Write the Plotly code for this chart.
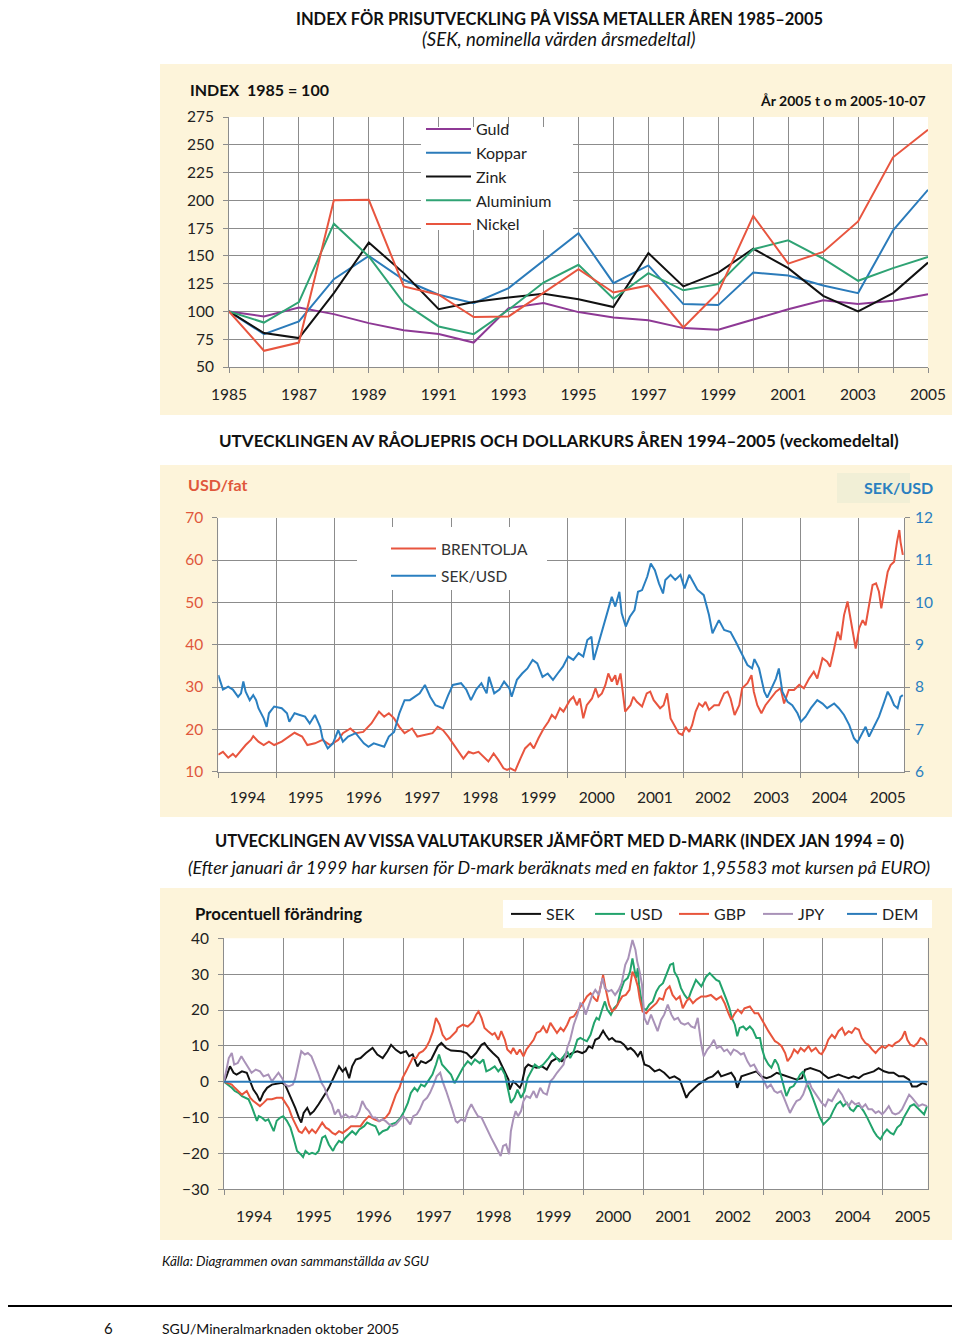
import plotly.graph_objects as go

# The page body adds an 8 px margin, so the figure is laid out 8 px up/left of the reference pixels.
OFF = 8
W, H = 952, 1330
def px(x): return (x - OFF) / W
def py(y): return 1 - (y - OFF) / H

FONT = "Lato, 'Noto Sans', sans-serif"
CREAM = "#fdf4da"
GRID = "#8c8c8c"
TXT = "#222222"

# ---------------- Panel 1: metals index (annual) ----------------
years = list(range(1985, 2006))
guld = [100, 95.5, 103.6, 97.6, 89.5, 83, 79.6, 72, 103, 107.5, 99.4, 94.6, 92, 85, 83.5, 92.5, 102, 110, 106.6, 109.6, 115.6]
koppar = [100, 79.6, 91, 129, 150, 128.5, 115, 107.5, 121, 145.6, 170.5, 125.5, 141.4, 106.6, 105.7, 135, 132.4, 123.4, 116.5, 173, 209.5]
zink = [100, 80.5, 76, 116.5, 162, 134.5, 102, 108.4, 112.6, 116, 111, 104, 152.5, 122.5, 135, 156.4, 139, 114, 100, 116.5, 144]
aluminium = [100, 90, 108.4, 179, 149.5, 107.5, 86.5, 79.6, 101.5, 126, 142, 111.4, 134.5, 119, 124.6, 156, 164, 147.5, 127.6, 139, 149]
nickel = [100, 64.6, 72, 200, 200.5, 122.5, 115, 95, 95.5, 116.5, 138, 117, 123.4, 85.6, 117.4, 186, 143, 153.6, 181, 238.7, 263.6]
metal_names = ["Guld", "Koppar", "Zink", "Aluminium", "Nickel"]
metal_colors = ["#8e3995", "#2b7bba", "#111111", "#2fa374", "#e8553f"]

# ---------------- Panel 2: Brent (USD/fat) and SEK/USD, weekly (read at ~monthly detail) ----------------
brent = [
    (1994.0, 14.0), (1994.08, 14.7), (1994.17, 13.3), (1994.25, 14.2), (1994.3, 13.5), (1994.39, 15.1), (1994.47, 16.3),
    (1994.56, 17.5), (1994.6, 18.4), (1994.69, 17.1), (1994.78, 16.3), (1994.87, 17.1), (1994.96, 16.3), (1995.09, 17.1),
    (1995.22, 18.3), (1995.31, 19.2), (1995.44, 18.3), (1995.53, 16.3), (1995.66, 16.7), (1995.79, 17.5), (1995.92, 16.3),
    (1996.06, 17.5), (1996.14, 19.1), (1996.27, 20.2), (1996.36, 19.1), (1996.49, 19.4), (1996.63, 21.4), (1996.76, 24.2),
    (1996.85, 23.0), (1996.93, 23.8), (1997.02, 22.6), (1997.11, 20.6), (1997.2, 19.1), (1997.33, 20.2), (1997.42, 18.3),
    (1997.55, 18.7), (1997.68, 19.1), (1997.77, 20.6), (1997.86, 19.8), (1997.95, 18.3), (1998.03, 16.7), (1998.12, 15.1),
    (1998.21, 13.1), (1998.3, 14.7), (1998.38, 14.3), (1998.47, 14.7), (1998.56, 13.5), (1998.64, 12.4), (1998.73, 14.3),
    (1998.81, 12.8), (1998.9, 10.8), (1998.96, 10.4), (1999.02, 10.8), (1999.1, 10.2), (1999.19, 13.1), (1999.27, 15.5),
    (1999.36, 16.7), (1999.42, 15.5), (1999.5, 17.9), (1999.59, 20.2), (1999.67, 21.8), (1999.73, 23.4), (1999.79, 22.6),
    (1999.87, 25.0), (1999.93, 24.2), (1999.99, 25.7), (2000.04, 26.9), (2000.1, 27.7), (2000.16, 25.7), (2000.21, 27.3),
    (2000.27, 22.6), (2000.33, 25.7), (2000.42, 27.3), (2000.48, 29.7), (2000.53, 27.7), (2000.59, 28.5), (2000.65, 30.5),
    (2000.7, 33.2), (2000.76, 31.3), (2000.82, 32.8), (2000.85, 30.5), (2000.91, 33.2), (2000.95, 29.3), (2000.99, 24.2),
    (2001.08, 25.7), (2001.13, 27.7), (2001.19, 26.5), (2001.28, 25.4), (2001.36, 28.5), (2001.42, 28.9), (2001.48, 26.9),
    (2001.54, 25.7), (2001.59, 25.0), (2001.65, 25.7), (2001.71, 28.5), (2001.77, 22.6), (2001.85, 20.6), (2001.91, 19.1),
    (2001.97, 18.7), (2002.03, 20.6), (2002.09, 19.4), (2002.14, 21.0), (2002.2, 24.2), (2002.26, 26.1), (2002.32, 25.4),
    (2002.37, 26.5), (2002.43, 24.6), (2002.52, 25.7), (2002.6, 25.7), (2002.69, 28.5), (2002.75, 28.9), (2002.8, 27.3),
    (2002.87, 23.4), (2002.95, 25.7), (2003.0, 29.7), (2003.09, 30.9), (2003.16, 32.8), (2003.2, 28.9), (2003.26, 25.7),
    (2003.33, 23.8), (2003.4, 25.7), (2003.49, 27.3), (2003.58, 28.9), (2003.66, 29.7), (2003.72, 26.1), (2003.8, 29.3),
    (2003.89, 29.3), (2003.98, 30.5), (2004.06, 29.7), (2004.15, 32.0), (2004.23, 33.6), (2004.29, 32.0), (2004.38, 36.8),
    (2004.46, 36.0), (2004.51, 34.8), (2004.58, 39.1), (2004.64, 43.1), (2004.69, 41.1), (2004.75, 47.0), (2004.81, 50.2),
    (2004.86, 46.2), (2004.91, 43.1), (2004.95, 39.1), (2005.01, 43.9), (2005.07, 45.8), (2005.12, 44.6), (2005.18, 49.4),
    (2005.24, 54.1), (2005.3, 54.5), (2005.35, 52.5), (2005.39, 48.6), (2005.44, 52.1), (2005.5, 57.2), (2005.55, 58.8),
    (2005.61, 59.6), (2005.66, 64.3), (2005.7, 67.1), (2005.72, 64.3), (2005.76, 61.2),
]
sekusd = [
    (1994.0, 8.28), (1994.04, 8.13), (1994.08, 7.94), (1994.17, 8.01), (1994.25, 7.94), (1994.34, 7.77), (1994.39, 7.85),
    (1994.43, 8.13), (1994.47, 7.89), (1994.54, 7.69), (1994.6, 7.81), (1994.65, 7.69), (1994.69, 7.50), (1994.78, 7.26),
    (1994.83, 7.06), (1994.87, 7.38), (1994.96, 7.54), (1995.09, 7.50), (1995.18, 7.38), (1995.22, 7.18), (1995.31, 7.38),
    (1995.4, 7.34), (1995.49, 7.30), (1995.57, 7.14), (1995.66, 7.34), (1995.75, 7.06), (1995.79, 6.79), (1995.88, 6.55),
    (1995.97, 6.67), (1996.06, 6.98), (1996.14, 6.71), (1996.23, 6.83), (1996.36, 6.91), (1996.5, 6.67), (1996.58, 6.59),
    (1996.67, 6.67), (1996.85, 6.59), (1996.93, 6.83), (1997.02, 6.94), (1997.11, 7.38), (1997.2, 7.69), (1997.29, 7.69),
    (1997.38, 7.77), (1997.46, 7.85), (1997.55, 8.05), (1997.64, 7.77), (1997.73, 7.57), (1997.86, 7.50), (1997.95, 7.81),
    (1998.03, 8.05), (1998.17, 8.09), (1998.26, 7.94), (1998.34, 7.69), (1998.43, 7.94), (1998.52, 8.09), (1998.61, 7.85),
    (1998.65, 8.24), (1998.74, 7.85), (1998.83, 7.94), (1998.91, 8.13), (1999.0, 7.97), (1999.04, 7.77), (1999.13, 8.17),
    (1999.22, 8.32), (1999.31, 8.44), (1999.4, 8.64), (1999.48, 8.56), (1999.57, 8.24), (1999.66, 8.32), (1999.75, 8.17),
    (1999.83, 8.32), (1999.92, 8.48), (2000.01, 8.72), (2000.1, 8.64), (2000.19, 8.80), (2000.27, 8.72), (2000.34, 9.11),
    (2000.41, 9.19), (2000.45, 8.64), (2000.52, 8.99), (2000.58, 9.23), (2000.67, 9.74), (2000.76, 10.13), (2000.82, 9.90),
    (2000.89, 10.25), (2000.93, 9.74), (2001.0, 9.43), (2001.07, 9.66), (2001.15, 9.82), (2001.21, 10.25), (2001.28, 10.29),
    (2001.37, 10.61), (2001.43, 10.92), (2001.5, 10.76), (2001.57, 10.45), (2001.64, 10.21), (2001.68, 10.53),
    (2001.77, 10.65), (2001.85, 10.53), (2001.94, 10.65), (2002.01, 10.33), (2002.09, 10.65), (2002.23, 10.3),
    (2002.34, 10.17), (2002.43, 9.7), (2002.49, 9.27), (2002.6, 9.58), (2002.69, 9.35), (2002.8, 9.3), (2002.89, 9.07),
    (2003.0, 8.76), (2003.09, 8.52), (2003.17, 8.44), (2003.21, 8.66), (2003.29, 8.44), (2003.38, 7.89), (2003.43, 7.75),
    (2003.49, 7.93), (2003.58, 8.2), (2003.63, 8.44), (2003.69, 7.89), (2003.78, 7.65), (2003.86, 7.57), (2003.95, 7.38),
    (2004.01, 7.18), (2004.09, 7.3), (2004.18, 7.5), (2004.29, 7.69), (2004.38, 7.61), (2004.46, 7.5), (2004.58, 7.61),
    (2004.66, 7.5), (2004.75, 7.34), (2004.84, 7.1), (2004.92, 6.79), (2004.98, 6.69), (2005.07, 6.94), (2005.12, 7.06),
    (2005.18, 6.83), (2005.27, 7.1), (2005.35, 7.3), (2005.44, 7.65), (2005.5, 7.89), (2005.55, 7.77), (2005.61, 7.57),
    (2005.67, 7.5), (2005.72, 7.77), (2005.76, 7.81),
]
mid_years = [str(y) for y in range(1994, 2006)]

# ---------------- Panel 3: currency change vs D-mark (%) ----------------
sek = [
    (1994.0, 0), (1994.04, 1.5), (1994.1, 4.3), (1994.16, 2.5), (1994.21, 2.0), (1994.3, 2.9), (1994.38, 2.5), (1994.44, 0.1),
    (1994.49, -2.2), (1994.55, -3.6), (1994.6, -5.4), (1994.66, -3.1), (1994.72, -1.7), (1994.8, -0.8), (1994.88, -0.6),
    (1994.97, -0.3), (1995.02, -0.8), (1995.08, -3.1), (1995.14, -4.9), (1995.19, -7.3), (1995.25, -10.0), (1995.29, -11.4),
    (1995.33, -8.7), (1995.39, -7.3), (1995.44, -9.1), (1995.5, -8.2), (1995.58, -6.3), (1995.64, -4.5), (1995.7, -3.1),
    (1995.75, -1.7), (1995.81, 0.6), (1995.87, 2.9), (1995.92, 4.3), (1995.98, 2.9), (1996.03, 3.8), (1996.09, 1.0),
    (1996.14, 4.3), (1996.2, 6.2), (1996.28, 6.6), (1996.37, 8.0), (1996.48, 9.4), (1996.56, 7.6), (1996.65, 6.6),
    (1996.73, 8.5), (1996.79, 10.3), (1996.87, 8.9), (1996.95, 8.0), (1997.04, 8.5), (1997.09, 7.1), (1997.15, 7.6),
    (1997.23, 4.3), (1997.29, 5.7), (1997.37, 5.2), (1997.46, 6.2), (1997.51, 8.0), (1997.57, 9.9), (1997.63, 10.8),
    (1997.71, 9.4), (1997.79, 8.7), (1997.88, 8.5), (1997.96, 8.5), (1998.05, 8.0), (1998.13, 6.6), (1998.21, 8.0),
    (1998.3, 10.3), (1998.35, 10.8), (1998.41, 9.4), (1998.49, 8.0), (1998.58, 6.6), (1998.63, 4.8), (1998.69, 2.9),
    (1998.75, 0.6), (1998.77, -2.2), (1998.83, 0.1), (1998.89, -0.8), (1998.94, -1.7), (1998.97, -0.6), (1999.03, 3.9),
    (1999.08, 4.8), (1999.14, 4.3), (1999.22, 3.9), (1999.31, 4.3), (1999.39, 3.4), (1999.47, 5.7), (1999.56, 6.6),
    (1999.64, 5.7), (1999.73, 7.1), (1999.81, 8.0), (1999.9, 8.5), (1999.98, 8.0), (2000.04, 8.5), (2000.09, 9.9),
    (2000.15, 9.4), (2000.2, 11.7), (2000.26, 12.2), (2000.33, 14.2), (2000.37, 13.1), (2000.43, 11.7), (2000.48, 12.2),
    (2000.54, 11.3), (2000.62, 11.1), (2000.68, 10.3), (2000.74, 9.0), (2000.79, 9.4), (2000.85, 8.5), (2000.91, 7.1),
    (2000.96, 8.5), (2001.02, 4.8), (2001.1, 4.3), (2001.19, 2.9), (2001.27, 3.4), (2001.35, 2.5), (2001.44, 1.0),
    (2001.52, 1.5), (2001.61, 0.6), (2001.66, -1.7), (2001.72, -4.5), (2001.77, -3.1), (2001.83, -2.2), (2001.92, -0.8),
    (2002.0, 0.1), (2002.08, 1.0), (2002.16, 1.5), (2002.25, 2.9), (2002.3, 1.5), (2002.39, 2.0), (2002.47, 2.5),
    (2002.53, 1.0), (2002.57, -1.7), (2002.64, 1.5), (2002.72, 2.0), (2002.81, 2.5), (2002.89, 2.9), (2002.97, 1.5),
    (2003.06, 1.0), (2003.14, 1.5), (2003.23, 2.5), (2003.31, 2.0), (2003.39, 1.5), (2003.48, 1.0), (2003.56, 0.6),
    (2003.65, 1.0), (2003.7, 3.3), (2003.79, 3.8), (2003.87, 3.3), (2003.95, 2.9), (2004.01, 2.0), (2004.09, 1.0),
    (2004.18, 1.5), (2004.26, 2.0), (2004.34, 1.5), (2004.43, 1.0), (2004.51, 1.5), (2004.6, 1.0), (2004.68, 2.0),
    (2004.76, 2.5), (2004.85, 2.9), (2004.93, 3.8), (2005.02, 2.9), (2005.1, 2.5), (2005.18, 2.5), (2005.27, 1.5),
    (2005.35, 1.5), (2005.44, 0.6), (2005.49, -1.3), (2005.57, -1.3), (2005.66, -0.4), (2005.74, -0.8),
]
usd = [
    (1994.0, 0), (1994.07, -0.8), (1994.13, -1.7), (1994.18, -2.6), (1994.24, -3.1), (1994.3, -4.0), (1994.35, -4.5),
    (1994.41, -4.9), (1994.46, -6.8), (1994.51, -9.1), (1994.55, -10.9), (1994.58, -9.6), (1994.63, -10.0), (1994.69, -10.9),
    (1994.74, -10.5), (1994.83, -13.8), (1994.88, -10.9), (1994.94, -10.0), (1994.99, -9.6), (1995.05, -10.9),
    (1995.11, -12.8), (1995.16, -15.6), (1995.22, -19.3), (1995.28, -20.2), (1995.32, -21.0), (1995.36, -19.3),
    (1995.42, -20.2), (1995.47, -19.8), (1995.53, -20.2), (1995.58, -19.3), (1995.64, -15.6), (1995.69, -15.1),
    (1995.75, -17.5), (1995.82, -19.3), (1995.86, -17.9), (1995.92, -16.5), (1995.97, -17.0), (1996.03, -15.6),
    (1996.09, -14.7), (1996.14, -13.8), (1996.2, -14.7), (1996.26, -13.3), (1996.34, -12.4), (1996.39, -11.4),
    (1996.45, -11.9), (1996.53, -12.4), (1996.59, -14.7), (1996.65, -13.8), (1996.73, -13.3), (1996.79, -11.9),
    (1996.87, -11.4), (1996.95, -10.0), (1997.01, -8.2), (1997.07, -5.9), (1997.12, -3.1), (1997.18, -1.7), (1997.23, -2.6),
    (1997.29, -0.8), (1997.35, -1.3), (1997.4, 0.1), (1997.48, 2.0), (1997.54, 4.8), (1997.59, 7.6), (1997.64, 4.8),
    (1997.71, 3.4), (1997.79, 2.0), (1997.85, -0.4), (1997.9, 1.0), (1997.99, 3.9), (1998.07, 5.7), (1998.13, 4.8),
    (1998.19, 6.2), (1998.27, 5.2), (1998.33, 6.2), (1998.38, 2.9), (1998.44, 3.4), (1998.52, 4.3), (1998.58, 2.9),
    (1998.63, 3.9), (1998.69, 2.0), (1998.75, -2.6), (1998.79, -5.9), (1998.85, -4.5), (1998.9, -2.2), (1998.96, -4.5),
    (1999.02, -2.6), (1999.07, 1.0), (1999.13, 2.9), (1999.19, 4.8), (1999.26, 3.9), (1999.33, 4.8), (1999.42, 6.6),
    (1999.48, 8.0), (1999.53, 7.1), (1999.6, 5.7), (1999.67, 7.1), (1999.73, 8.5), (1999.78, 6.6), (1999.84, 8.5),
    (1999.9, 11.7), (1999.95, 12.2), (2000.01, 11.7), (2000.06, 11.3), (2000.12, 13.1), (2000.18, 16.4), (2000.22, 17.8),
    (2000.26, 17.3), (2000.32, 20.5), (2000.36, 22.4), (2000.4, 20.1), (2000.46, 18.7), (2000.51, 20.5), (2000.57, 21.5),
    (2000.62, 25.2), (2000.68, 28.0), (2000.74, 28.9), (2000.78, 30.7), (2000.82, 34.4), (2000.85, 31.7), (2000.88, 28.9),
    (2000.91, 31.7), (2000.93, 27.0), (2000.99, 20.5), (2001.05, 20.1), (2001.1, 21.5), (2001.16, 22.4), (2001.22, 25.2),
    (2001.27, 26.6), (2001.33, 27.5), (2001.38, 29.8), (2001.45, 32.6), (2001.5, 33.0), (2001.52, 30.7), (2001.58, 28.9),
    (2001.63, 26.1), (2001.69, 24.2), (2001.75, 22.9), (2001.8, 25.2), (2001.88, 28.4), (2001.97, 26.6), (2002.05, 29.3),
    (2002.11, 30.3), (2002.16, 29.3), (2002.22, 28.4), (2002.27, 28.0), (2002.33, 25.6), (2002.39, 22.9), (2002.44, 20.5),
    (2002.48, 17.8), (2002.53, 15.9), (2002.57, 12.7), (2002.61, 15.0), (2002.67, 15.4), (2002.72, 14.5), (2002.78, 15.4),
    (2002.83, 14.5), (2002.89, 12.2), (2002.95, 12.2), (2002.98, 9.4), (2003.03, 6.6), (2003.09, 4.8), (2003.14, 3.9),
    (2003.2, 6.2), (2003.25, 4.8), (2003.3, 1.5), (2003.34, -0.8), (2003.39, -4.0), (2003.45, -1.7), (2003.51, -1.2),
    (2003.56, 0.1), (2003.62, 2.0), (2003.67, 2.9), (2003.73, -0.4), (2003.79, -2.6), (2003.84, -4.9), (2003.9, -7.3),
    (2003.95, -10.0), (2004.01, -11.9), (2004.06, -10.9), (2004.12, -10.0), (2004.17, -8.2), (2004.23, -6.3),
    (2004.29, -5.5), (2004.34, -6.8), (2004.4, -5.9), (2004.46, -7.7), (2004.51, -8.2), (2004.57, -6.8), (2004.62, -6.8),
    (2004.68, -8.2), (2004.74, -10.0), (2004.79, -11.9), (2004.85, -13.8), (2004.9, -15.1), (2004.96, -16.1),
    (2005.02, -14.3), (2005.07, -13.3), (2005.13, -14.3), (2005.18, -14.7), (2005.24, -12.8), (2005.3, -11.9),
    (2005.35, -10.0), (2005.41, -8.2), (2005.46, -6.8), (2005.52, -6.3), (2005.58, -7.2), (2005.63, -8.2), (2005.69, -9.1),
    (2005.74, -6.8),
]
gbp = [
    (1994.0, 0), (1994.07, -0.4), (1994.13, -0.8), (1994.18, -1.7), (1994.24, -2.6), (1994.3, -3.6), (1994.38, -2.6),
    (1994.44, -4.5), (1994.49, -5.4), (1994.55, -6.3), (1994.6, -6.8), (1994.66, -5.9), (1994.72, -4.9), (1994.8, -4.9),
    (1994.88, -4.5), (1994.97, -4.5), (1995.02, -5.9), (1995.08, -7.3), (1995.14, -10.0), (1995.19, -11.9), (1995.25, -13.8),
    (1995.3, -14.3), (1995.36, -12.8), (1995.42, -14.3), (1995.47, -13.3), (1995.53, -14.3), (1995.58, -12.8),
    (1995.64, -11.4), (1995.7, -12.8), (1995.75, -13.3), (1995.81, -14.3), (1995.86, -14.7), (1995.92, -13.8),
    (1995.98, -14.3), (1996.06, -13.3), (1996.12, -12.4), (1996.2, -12.4), (1996.28, -12.4), (1996.34, -11.0),
    (1996.42, -9.6), (1996.51, -10.5), (1996.59, -11.0), (1996.65, -10.5), (1996.7, -10.0), (1996.76, -8.7), (1996.81, -6.3),
    (1996.87, -3.6), (1996.93, -1.7), (1996.98, 1.0), (1997.04, 2.9), (1997.09, 4.8), (1997.15, 6.6), (1997.21, 6.6),
    (1997.26, 8.0), (1997.32, 8.5), (1997.37, 9.4), (1997.43, 11.3), (1997.49, 14.1), (1997.54, 17.8), (1997.6, 15.9),
    (1997.65, 13.1), (1997.71, 11.7), (1997.77, 12.2), (1997.82, 13.1), (1997.88, 14.1), (1997.9, 15.0), (1997.99, 15.9),
    (1998.07, 15.4), (1998.16, 16.8), (1998.21, 18.7), (1998.25, 19.6), (1998.3, 17.8), (1998.35, 15.0), (1998.41, 14.1),
    (1998.48, 13.1), (1998.52, 13.6), (1998.58, 11.7), (1998.63, 14.1), (1998.69, 11.7), (1998.73, 9.0), (1998.79, 8.0),
    (1998.83, 9.4), (1998.89, 7.6), (1998.94, 9.0), (1999.0, 7.1), (1999.05, 9.0), (1999.11, 10.3), (1999.17, 11.7),
    (1999.22, 13.6), (1999.28, 14.1), (1999.33, 15.4), (1999.39, 13.6), (1999.45, 16.4), (1999.5, 15.0), (1999.56, 13.6),
    (1999.62, 15.0), (1999.67, 14.1), (1999.73, 15.9), (1999.78, 17.8), (1999.84, 18.2), (1999.9, 19.6), (1999.95, 21.0),
    (2000.01, 22.4), (2000.06, 23.8), (2000.12, 24.7), (2000.18, 23.3), (2000.23, 22.4), (2000.29, 26.6), (2000.33, 29.8),
    (2000.37, 26.1), (2000.43, 21.5), (2000.48, 19.6), (2000.54, 20.5), (2000.6, 22.4), (2000.65, 23.8), (2000.71, 24.2),
    (2000.77, 25.6), (2000.82, 30.7), (2000.87, 28.9), (2000.91, 26.6), (2000.94, 23.3), (2000.99, 19.6), (2001.05, 19.1),
    (2001.1, 20.1), (2001.16, 21.0), (2001.22, 21.9), (2001.27, 23.3), (2001.33, 22.9), (2001.38, 25.6), (2001.44, 26.6),
    (2001.49, 24.2), (2001.55, 22.9), (2001.61, 23.8), (2001.66, 20.5), (2001.72, 22.4), (2001.77, 23.3), (2001.83, 21.9),
    (2001.89, 22.9), (2001.97, 23.8), (2002.05, 23.8), (2002.13, 24.2), (2002.22, 22.9), (2002.3, 23.8), (2002.36, 21.9),
    (2002.41, 19.6), (2002.47, 17.3), (2002.53, 19.1), (2002.58, 20.1), (2002.64, 19.1), (2002.69, 20.5), (2002.78, 21.0),
    (2002.86, 19.1), (2002.92, 19.1), (2002.97, 17.8), (2003.03, 15.9), (2003.09, 14.1), (2003.14, 12.7), (2003.2, 11.3),
    (2003.25, 10.8), (2003.31, 9.9), (2003.37, 8.0), (2003.41, 5.7), (2003.47, 7.1), (2003.52, 9.0), (2003.58, 8.0),
    (2003.63, 9.4), (2003.69, 8.5), (2003.76, 9.9), (2003.81, 8.5), (2003.88, 9.4), (2003.94, 8.0), (2003.98, 7.7),
    (2004.04, 9.4), (2004.09, 11.7), (2004.15, 13.1), (2004.2, 12.2), (2004.26, 14.1), (2004.32, 15.0), (2004.37, 13.1),
    (2004.43, 14.1), (2004.48, 13.6), (2004.54, 15.0), (2004.6, 14.5), (2004.65, 12.2), (2004.71, 10.8), (2004.76, 10.3),
    (2004.82, 9.0), (2004.88, 8.0), (2004.93, 9.0), (2004.99, 9.9), (2005.04, 9.4), (2005.1, 10.3), (2005.16, 9.9),
    (2005.21, 10.8), (2005.27, 11.3), (2005.32, 12.2), (2005.37, 14.1), (2005.41, 11.7), (2005.46, 10.3), (2005.52, 9.9),
    (2005.58, 10.8), (2005.63, 12.2), (2005.69, 11.7), (2005.74, 10.3),
]
jpy = [
    (1994.0, 0), (1994.04, 2.9), (1994.08, 6.6), (1994.13, 8.0), (1994.17, 4.8), (1994.23, 5.2), (1994.29, 7.1),
    (1994.34, 5.7), (1994.4, 3.9), (1994.46, 2.5), (1994.53, 3.4), (1994.6, 2.9), (1994.66, 1.5), (1994.74, 2.0),
    (1994.8, 0.1), (1994.86, 1.5), (1994.91, 2.5), (1994.97, 1.0), (1995.02, -0.8), (1995.08, -1.3), (1995.15, -0.8),
    (1995.19, 1.0), (1995.25, 5.7), (1995.29, 8.5), (1995.35, 7.6), (1995.4, 8.0), (1995.46, 7.1), (1995.52, 4.8),
    (1995.57, 2.5), (1995.63, -0.4), (1995.68, -1.7), (1995.74, -4.5), (1995.8, -6.3), (1995.85, -9.1), (1995.91, -7.7),
    (1995.96, -10.0), (1996.03, -9.1), (1996.09, -10.0), (1996.14, -9.6), (1996.2, -10.0), (1996.26, -8.2), (1996.31, -5.4),
    (1996.37, -7.3), (1996.42, -8.2), (1996.48, -10.0), (1996.53, -10.0), (1996.59, -11.0), (1996.65, -10.5),
    (1996.7, -11.0), (1996.76, -11.9), (1996.81, -12.4), (1996.87, -11.9), (1996.94, -10.5), (1996.99, -9.6),
    (1997.05, -10.5), (1997.11, -11.9), (1997.16, -9.6), (1997.22, -9.1), (1997.27, -7.7), (1997.33, -5.4), (1997.39, -4.5),
    (1997.44, -3.1), (1997.5, -0.8), (1997.55, 1.5), (1997.61, 2.5), (1997.65, 0.1), (1997.71, -2.6), (1997.77, -5.4),
    (1997.82, -8.2), (1997.87, -11.0), (1997.9, -11.4), (1997.96, -10.5), (1998.02, -11.0), (1998.07, -8.2),
    (1998.13, -6.3), (1998.19, -8.2), (1998.24, -9.6), (1998.3, -10.0), (1998.35, -11.9), (1998.41, -13.8),
    (1998.46, -15.6), (1998.52, -17.5), (1998.58, -19.3), (1998.62, -20.7), (1998.66, -17.9), (1998.71, -17.5),
    (1998.76, -20.2), (1998.79, -13.8), (1998.83, -10.5), (1998.87, -8.2), (1998.91, -9.6), (1998.96, -8.2),
    (1999.0, -5.4), (1999.05, -4.0), (1999.11, -4.5), (1999.17, -2.6), (1999.22, -4.5), (1999.28, -1.7), (1999.33, -3.1),
    (1999.39, -3.6), (1999.45, 0.1), (1999.5, 1.0), (1999.56, 2.5), (1999.62, 3.9), (1999.67, 4.8), (1999.73, 9.4),
    (1999.78, 11.7), (1999.84, 15.9), (1999.9, 18.7), (1999.95, 21.9), (1999.99, 21.5), (2000.04, 18.7), (2000.09, 21.0),
    (2000.15, 24.2), (2000.2, 25.6), (2000.26, 24.2), (2000.32, 28.9), (2000.36, 26.1), (2000.42, 25.2), (2000.47, 25.6),
    (2000.53, 24.2), (2000.59, 25.6), (2000.64, 27.5), (2000.7, 32.6), (2000.75, 34.4), (2000.79, 37.2), (2000.82, 39.5),
    (2000.87, 36.8), (2000.9, 33.5), (2000.94, 30.7), (2000.98, 27.0), (2001.02, 17.8), (2001.07, 15.9), (2001.13, 18.7),
    (2001.19, 15.9), (2001.24, 14.1), (2001.3, 17.3), (2001.35, 18.7), (2001.41, 21.5), (2001.47, 18.7), (2001.52, 17.3),
    (2001.58, 17.8), (2001.63, 16.4), (2001.69, 15.9), (2001.75, 16.4), (2001.8, 15.4), (2001.86, 15.0), (2001.91, 17.8),
    (2001.97, 10.3), (2002.01, 7.1), (2002.07, 9.0), (2002.12, 9.9), (2002.18, 11.7), (2002.23, 9.4), (2002.29, 9.9),
    (2002.35, 8.5), (2002.4, 9.0), (2002.46, 7.6), (2002.51, 9.0), (2002.57, 8.5), (2002.63, 7.6), (2002.68, 8.0),
    (2002.74, 5.7), (2002.79, 4.3), (2002.85, 4.8), (2002.91, 2.9), (2002.96, 2.0), (2003.02, 0.1), (2003.07, -1.7),
    (2003.13, -0.8), (2003.19, -2.6), (2003.24, -3.1), (2003.3, -2.6), (2003.35, -4.5), (2003.41, -7.3), (2003.45, -8.7),
    (2003.51, -6.8), (2003.56, -5.4), (2003.62, -4.9), (2003.67, -3.6), (2003.73, -0.8), (2003.77, 0.1), (2003.81, -1.7),
    (2003.87, -3.1), (2003.93, -4.5), (2003.98, -5.9), (2004.04, -6.8), (2004.09, -4.9), (2004.15, -5.4), (2004.21, -3.6),
    (2004.26, -2.2), (2004.32, -3.6), (2004.37, -5.4), (2004.43, -6.8), (2004.48, -5.4), (2004.54, -6.3), (2004.6, -5.9),
    (2004.65, -7.3), (2004.71, -6.3), (2004.76, -7.7), (2004.82, -7.7), (2004.88, -8.7), (2004.93, -8.2), (2004.99, -9.1),
    (2005.04, -8.2), (2005.1, -6.8), (2005.16, -8.7), (2005.21, -9.1), (2005.27, -8.7), (2005.32, -7.7), (2005.38, -5.4),
    (2005.44, -3.6), (2005.49, -4.5), (2005.55, -5.9), (2005.6, -6.8), (2005.66, -6.3), (2005.74, -6.8),
]
dem = [(1994.0, 0.0), (2005.75, 0.0)]

fx_series = [("SEK", sek, "#111111"), ("USD", usd, "#22a36c"), ("GBP", gbp, "#e8553c"),
             ("JPY", jpy, "#a992b8"), ("DEM", dem, "#2b7bba")]

# ---------------- Figure ----------------
fig = go.Figure()

for name, vals, col in zip(metal_names, [guld, koppar, zink, aluminium, nickel], metal_colors):
    fig.add_trace(go.Scatter(x=years, y=vals, name=name, mode="lines",
                             line=dict(color=col, width=2), xaxis="x", yaxis="y", legend="legend"))

fig.add_trace(go.Scatter(x=[p[0] for p in brent], y=[p[1] for p in brent], name="BRENTOLJA", mode="lines",
                         line=dict(color="#e8553f", width=2), xaxis="x2", yaxis="y2", legend="legend2",
                         legendgroup="b"))
fig.add_trace(go.Scatter(x=[p[0] for p in sekusd], y=[p[1] for p in sekusd], name="SEK/USD", mode="lines",
                         line=dict(color="#2a7fc0", width=2), xaxis="x2", yaxis="y3", legend="legend2",
                         legendgroup="s"))

for name, vals, col in fx_series:
    fig.add_trace(go.Scatter(x=[p[0] for p in vals], y=[p[1] for p in vals], name=name, mode="lines",
                             line=dict(color=col, width=2), xaxis="x3", yaxis="y4", legend="legend3"))

# plot-area boxes (reference-pixel geometry)
P1 = (229, 117, 928, 367)
P2 = (218.3, 517.7, 904, 771.7)
P3 = (224, 938.3, 927.7, 1189.3)

tickf = dict(family=FONT, size=15.5, color=TXT)
common_axis = dict(showline=True, linecolor=GRID, linewidth=1, gridcolor=GRID, gridwidth=1, automargin=False,
                   zeroline=False, ticks="outside", ticklen=5, tickcolor=GRID, tickfont=tickf)

layout = dict(
    width=W, height=H, margin=dict(l=0, r=0, t=0, b=0, pad=0, autoexpand=False),
    paper_bgcolor="white", plot_bgcolor="white",
    font=dict(family=FONT, color=TXT),
    xaxis=dict(domain=[px(P1[0]), px(P1[2])], anchor="y", range=[1985, 2005],
               tickmode="array", tickvals=list(range(1985, 2006, 2)), showgrid=True,
               minor=dict(tickmode="array", tickvals=list(range(1986, 2006, 2)), showgrid=True,
                          gridcolor=GRID, ticks="outside", ticklen=5, tickcolor=GRID),
               ticklabelstandoff=8, **common_axis),
    yaxis=dict(domain=[py(P1[3]), py(P1[1])], anchor="x", range=[50, 275], dtick=25, showgrid=True,
               ticklabelstandoff=6, **common_axis),
    xaxis2=dict(domain=[px(P2[0]), px(P2[2])], anchor="y2", range=[1994, 2005.78],
                tickmode="array", tickvals=[y + 0.5 for y in range(1994, 2006)], ticktext=mid_years,
                showgrid=False,
                minor=dict(tickmode="array", tickvals=list(range(1994, 2006)), showgrid=True,
                           gridcolor=GRID, ticks="outside", ticklen=5, tickcolor=GRID),
                **{**common_axis, "ticks": "", "ticklen": 0}, ticklabelstandoff=12),
    yaxis2=dict(domain=[py(P2[3]), py(P2[1])], anchor="x2", range=[10, 70], dtick=10, showgrid=True,
                ticklabelstandoff=6, **{**common_axis, "tickfont": dict(family=FONT, size=15.5, color="#e0573c")}),
    yaxis3=dict(overlaying="y2", anchor="x2", side="right", range=[6, 12], dtick=1, showgrid=False,
                ticklabelstandoff=2, **{**common_axis, "tickfont": dict(family=FONT, size=15.5, color="#2a7fc0")}),
    xaxis3=dict(domain=[px(P3[0]), px(P3[2])], anchor="y4", range=[1994, 2005.75],
                tickmode="array", tickvals=[y + 0.5 for y in range(1994, 2006)], ticktext=mid_years,
                showgrid=False,
                minor=dict(tickmode="array", tickvals=list(range(1994, 2006)), showgrid=True,
                           gridcolor=GRID, ticks="outside", ticklen=5, tickcolor=GRID),
                **{**common_axis, "ticks": "", "ticklen": 0}, ticklabelstandoff=13),
    yaxis4=dict(domain=[py(P3[3]), py(P3[1])], anchor="x3", range=[-30, 40], dtick=10, showgrid=True,
                mirror=True, ticklabelstandoff=6, **common_axis),
    legend=dict(x=px(421), y=py(112), xanchor="left", yanchor="top", bgcolor="rgba(0,0,0,0)",
                font=dict(family=FONT, size=16, color=TXT), itemwidth=45, tracegroupgap=0),
    legend2=dict(x=px(386), y=py(532), xanchor="left", yanchor="top", bgcolor="rgba(0,0,0,0)",
                 font=dict(family=FONT, size=15.5, color="#333333"), itemwidth=45, tracegroupgap=4),
    legend3=dict(x=px(506), y=py(914), xanchor="left", yanchor="middle", orientation="h",
                 bgcolor="rgba(0,0,0,0)", font=dict(family=FONT, size=16, color=TXT),
                 entrywidth=39, entrywidthmode="pixels"),
)
fig.update_layout(**layout)

shapes = []
def rect(x0, y0, x1, y1, color, layer="below"):
    shapes.append(dict(type="rect", xref="paper", yref="paper", x0=px(x0), x1=px(x1), y0=py(y1), y1=py(y0),
                       fillcolor=color, line=dict(width=0), layer=layer))

for (y0, y1) in [(64, 415), (465, 817), (888, 1240)]:
    rect(160, y0, 958, y1, CREAM)
for P in (P1, P2, P3):
    rect(*P, "white")
rect(837, 473, 910, 503, "#f1efd6")
rect(503, 900, 932, 928, "white")
rect(421, 127, 573, 230, "white", layer="above")
rect(357, 527, 547, 590, "white", layer="above")
shapes.append(dict(type="line", xref="paper", yref="paper", x0=0, x1=1, y0=py(1306), y1=py(1306),
                   line=dict(color="black", width=2)))
fig.update_layout(shapes=shapes)

def ann(text, x, y, size=16, bold=False, italic=False, color=TXT, xanchor="center", yanchor="middle", pad=1):
    t = text
    if bold:
        t = "<b>" + t + "</b>"
    if italic:
        t = "<i>" + t + "</i>"
    fig.add_annotation(text=t, x=px(x), y=py(y), xref="paper", yref="paper", showarrow=False,
                       xanchor=xanchor, yanchor=yanchor, borderpad=pad,
                       font=dict(family=FONT, size=size, color=color))

# main title sits at the very top edge of the page: anchor its top to the figure top so it is not clipped
ann("INDEX FÖR PRISUTVECKLING PÅ VISSA METALLER ÅREN 1985–2005", 559, OFF, 16.5, bold=True, color="#111",
    yanchor="top", pad=0)
ann("(SEK, nominella värden årsmedeltal)", 559, 39, 18.5, italic=True, color="#111")
ann("INDEX  1985 = 100", 188, 89, 16, bold=True, xanchor="left", color="#111")
ann("År 2005 t o m 2005-10-07", 928, 101, 14, bold=True, xanchor="right", color="#111")
ann("UTVECKLINGEN AV RÅOLJEPRIS OCH DOLLARKURS ÅREN 1994–2005 (veckomedeltal)", 559, 440, 17, bold=True, color="#111")
ann("USD/fat", 186, 485, 16, bold=True, xanchor="left", color="#e0573c")
ann("SEK/USD", 935, 487, 16, bold=True, xanchor="right", color="#2a7fc0")
ann("UTVECKLINGEN AV VISSA VALUTAKURSER JÄMFÖRT MED D-MARK (INDEX JAN 1994 = 0)", 559, 841, 16.5, bold=True, color="#111")
ann("(Efter januari år 1999 har kursen för D-mark beräknats med en faktor 1,95583 mot kursen på EURO)",
    559, 867, 17.8, italic=True, color="#111")
ann("Procentuell förändring", 193, 913, 16.8, bold=True, xanchor="left", color="#111")
ann("Källa: Diagrammen ovan sammanställda av SGU", 160, 1261, 13.4, italic=True, xanchor="left", color="#111")
ann("6", 108, 1328, 15, color="#111")
ann("SGU/Mineralmarknaden oktober 2005", 160, 1328, 14, xanchor="left", color="#111")

fig.write_html("out.html")
